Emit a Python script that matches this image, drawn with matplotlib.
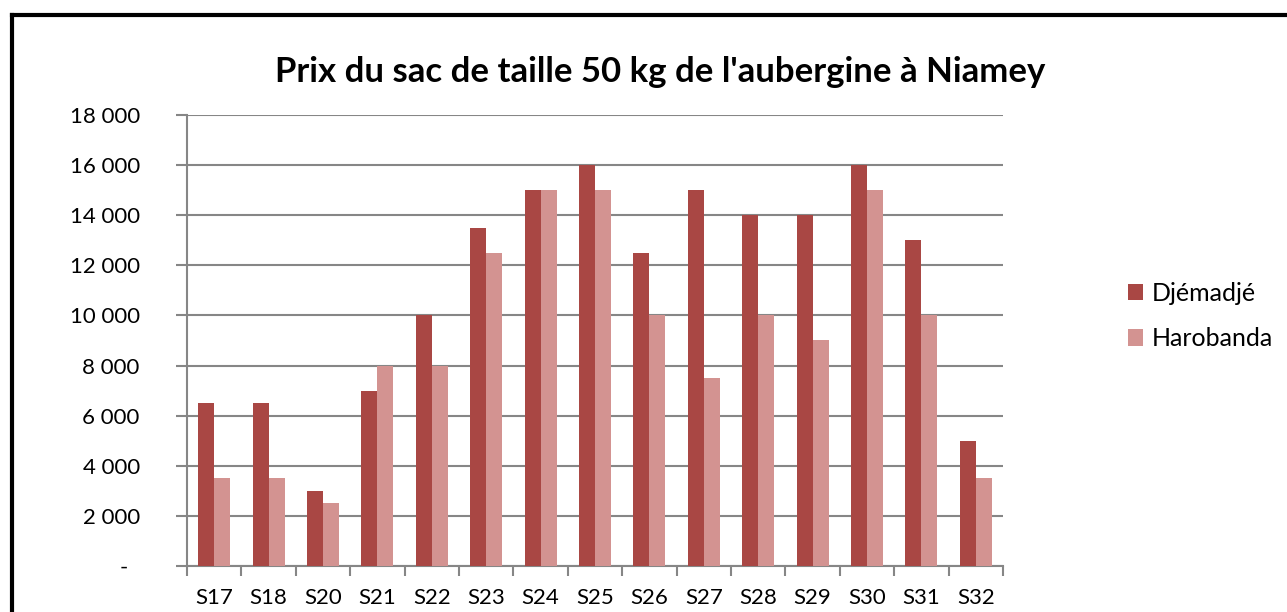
import matplotlib.pyplot as plt
import numpy as np
from matplotlib.ticker import FuncFormatter, FixedLocator
from matplotlib.lines import Line2D

weeks = ["S17", "S18", "S20", "S21", "S22", "S23", "S24", "S25",
         "S26", "S27", "S28", "S29", "S30", "S31", "S32"]
djemadje = [6500, 6500, 3000, 7000, 10000, 13500, 15000, 16000,
            12500, 15000, 14000, 14000, 16000, 13000, 5000]
harobanda = [3500, 3500, 2500, 8000, 8000, 12500, 15000, 15000,
             10000, 7500, 10000, 9000, 15000, 10000, 3500]

plt.rcParams['font.family'] = ['Lato', 'DejaVu Sans']

fig = plt.figure(figsize=(12.87, 6.12), dpi=100)
ax = fig.add_axes([0.1453, 0.0752, 0.634, 0.7369])

x = np.arange(len(weeks))
w = 0.294
ax.bar(x - w / 2, djemadje, width=w, color="#A94744", label="Djémadjé", zorder=3)
ax.bar(x + w / 2, harobanda, width=w, color="#D39391", label="Harobanda", zorder=3)

ax.set_xlim(-0.5, len(weeks) - 0.5)
ax.set_ylim(0, 18000)
ax.set_yticks(np.arange(0, 18001, 2000))

def fmt(v, pos):
    if v == 0:
        return "-  "
    return "{:,}".format(int(v)).replace(",", " ")

ax.yaxis.set_major_formatter(FuncFormatter(fmt))
ax.grid(axis="y", color="#868686", linewidth=1.5, zorder=0)

ax.set_xticks(x)
ax.set_xticklabels(weeks)
ax.xaxis.set_minor_locator(FixedLocator(np.arange(-0.5, len(weeks), 1.0)))
ax.tick_params(axis="x", which="major", length=0, labelsize=16, pad=16)
ax.tick_params(axis="x", which="minor", length=7, width=1.5, color="#868686")
ax.tick_params(axis="y", length=8, width=1.5, color="#868686", labelsize=16, pad=26)

for s in ["top", "right"]:
    ax.spines[s].set_visible(False)
for s in ["left", "bottom"]:
    ax.spines[s].set_color("#868686")
    ax.spines[s].set_linewidth(1.5)

fig.text(0.513, 0.882, "Prix du sac de taille 50 kg de l'aubergine à Niamey",
         ha="center", va="center", fontsize=25, fontweight="bold")

ax.legend(loc="center left", bbox_to_anchor=(1.153, 0.554), frameon=False,
          fontsize=18, handlelength=0.62, handleheight=0.62,
          handletextpad=0.35, labelspacing=0.9, borderpad=0, borderaxespad=0)

# chart frame (top and left edges, the rest is cropped)
fig.add_artist(Line2D([0.0093, 1.0], [0.9755, 0.9755], color="black", linewidth=3,
                      transform=fig.transFigure))
fig.add_artist(Line2D([0.0093, 0.0093], [0.0, 0.9755], color="black", linewidth=3,
                      transform=fig.transFigure))

fig.savefig("out.png", dpi=100)
